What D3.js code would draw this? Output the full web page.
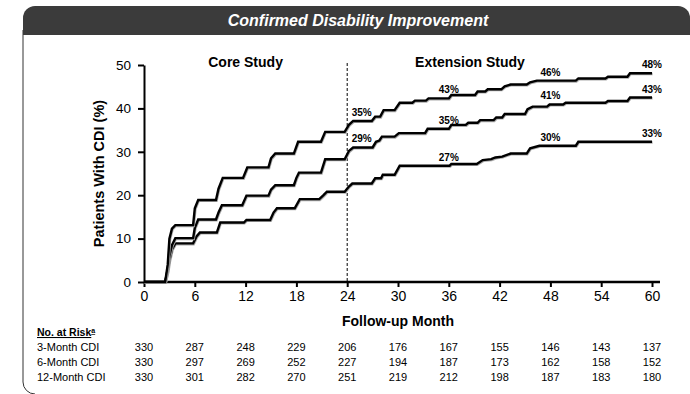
<!DOCTYPE html>
<html>
<head>
<meta charset="utf-8">
<script src="https://cdn.jsdelivr.net/npm/d3@7"></script>
<style>
  body { margin: 0; background: #fff; }
  text { font-family: "Liberation Sans", Arial, sans-serif; }
</style>
</head>
<body>
<div id="chart"></div>
<script>
// curve vertices: [month, % with CDI]
var cdi3 = [[0,0],[2.5,0],[2.8,4],[3.0,10],[3.3,12.3],[3.7,13.1],[5.8,13.1],[6.0,17],[6.4,18.9],[8.5,18.9],[8.8,21.5],[9.3,24.0],
  [11.7,24.0],[12.2,26.4],[14.7,26.4],[15.0,28.5],[15.5,29.6],[17.7,29.6],[18.2,32.3],[20.9,32.3],[21.4,34.6],[23.7,34.6],
  [24.2,36.2],[24.7,37.1],[26.9,37.1],[27.3,38.1],[27.9,38.1],[28.3,39.6],[29.6,39.6],[30.2,41.3],[31.7,41.3],[32.0,41.8],
  [33.3,41.8],[33.6,42.3],[36.0,42.3],[36.3,43.1],[39.1,43.1],[39.4,43.9],[40.3,43.9],[40.6,44.4],[42.2,44.4],[42.6,45.1],
  [43.3,45.5],[45.2,45.5],[45.6,46.0],[46.4,46.4],[51.0,46.4],[51.3,46.9],[54.5,46.9],[54.8,47.3],[57.1,47.3],[57.4,48.1],[60,48.1]];
var cdi6 = [[0,0],[2.5,0],[2.8,3],[3.0,6],[3.3,8.5],[3.7,10.1],[5.8,10.1],[6.0,12.5],[6.4,14.4],[8.5,14.4],[8.8,16],[9.2,17.7],
  [11.6,17.7],[12.1,19.9],[14.7,19.9],[15.0,21.3],[15.5,22.3],[17.7,22.3],[18.0,24],[18.3,25.2],[20.9,25.2],[21.4,28.3],
  [23.7,28.3],[24.2,30.2],[24.7,31.0],[27.0,31.0],[27.4,32.3],[27.8,32.6],[28.1,33.5],[29.6,33.5],[30.1,34.3],[33.2,34.3],
  [33.5,35.3],[36.0,35.3],[36.3,36.2],[38.0,36.2],[38.3,36.7],[39.4,36.7],[39.7,37.3],[41.3,37.3],[41.6,37.9],[42.3,37.9],
  [42.6,38.7],[45.0,38.7],[45.3,39.8],[45.9,40.4],[47.6,40.4],[47.9,40.9],[49.5,40.9],[49.8,41.3],[54.5,41.3],[54.8,41.7],
  [57.1,41.7],[57.4,42.5],[60,42.5]];
var cdi12 = [[0,0],[2.5,0],[2.8,2.5],[3.0,5],[3.3,7.5],[3.7,8.9],[5.8,8.9],[6.2,10.5],[6.6,11.4],[8.6,11.4],[9.0,13.7],
  [11.8,13.7],[12.1,14.3],[14.9,14.3],[15.3,16],[15.7,17.0],[17.8,17.0],[18.4,19.1],[20.7,19.1],[21.2,20.0],[21.6,20.8],
  [23.7,20.8],[24.2,22.0],[24.6,22.7],[26.9,22.7],[27.3,23.9],[28.0,23.9],[28.2,24.7],[29.6,24.7],[30.2,26.8],[36.1,26.8],
  [36.3,27.2],[39.3,27.2],[40.0,28.1],[41.0,28.3],[41.5,28.7],[42.3,28.9],[43.3,29.6],[45.2,29.6],[45.6,30.8],[46.7,31.4],
  [51.0,31.4],[51.3,32.3],[60,32.3]];

// percentage labels on the curves
var labelMonths3 = [24, 36, 48, 60], labels3 = ["35%", "43%", "46%", "48%"];
var labelMonths6 = [24, 36, 48, 60], labels6 = ["29%", "35%", "41%", "43%"];
var labelMonths12 = [36, 48, 60], labels12 = ["27%", "30%", "33%"];

// number at risk table
var riskMonths = [0, 6, 12, 18, 24, 30, 36, 42, 48, 54, 60];
var rowNames = ["3-Month CDI", "6-Month CDI", "12-Month CDI"];
var risk3 = [330, 287, 248, 229, 206, 176, 167, 155, 146, 143, 137];
var risk6 = [330, 297, 269, 252, 227, 194, 187, 173, 162, 158, 152];
var risk12 = [330, 301, 282, 270, 251, 219, 212, 198, 187, 183, 180];

var xTicks = [0, 6, 12, 18, 24, 30, 36, 42, 48, 54, 60];
var yTicks = [0, 10, 20, 30, 40, 50];

var W = 690, H = 394;
var margin = { top: 65, right: 38, bottom: 112, left: 144 },
  width = W - margin.left - margin.right,
  height = H - margin.top - margin.bottom;

var root = d3.select("#chart").append("svg")
  .attr("width", W).attr("height", H);

// frame + header band
root.append("path")
  .attr("d", "M23,30 V382 A12,12 0 0 0 35,394")
  .attr("fill", "none").attr("stroke", "#333").attr("stroke-width", 1);
root.append("path")
  .attr("d", "M23,35 V18 A12,12 0 0 1 35,6 H678 A12,12 0 0 1 690,18 V35 Z")
  .attr("fill", "#3b3b3b");
root.append("text")
  .attr("x", 358).attr("y", 26)
  .attr("text-anchor", "middle")
  .attr("fill", "#fff")
  .style("font-size", "16px").style("font-weight", "bold").style("font-style", "italic")
  .text("Confirmed Disability Improvement");

var svg = root.append("g")
  .attr("transform", "translate(" + margin.left + "," + margin.top + ")");

var x = d3.scaleLinear().domain([0, 60]).range([0, width]);
var y = d3.scaleLinear().domain([0, 50]).range([height, 0]);

// Y axis
var yAxis = svg.append("g")
  .call(d3.axisLeft(y).tickValues(yTicks).tickSize(6).tickSizeOuter(0).tickPadding(7));
yAxis.select(".domain").attr("stroke-width", 2);
yAxis.selectAll(".tick line").attr("stroke-width", 2);
yAxis.selectAll(".tick text").style("font-size", "13.5px").attr("fill", "#000");

// X axis (line runs a little past 60)
var xAxis = svg.append("g")
  .attr("transform", "translate(0," + height + ")")
  .call(d3.axisBottom(x).tickValues(xTicks).tickSize(5).tickSizeOuter(0).tickPadding(4));
xAxis.select(".domain").attr("d", "M0,0H" + (width + 8)).attr("stroke-width", 2.5);
xAxis.selectAll(".tick line").attr("stroke-width", 2);
xAxis.selectAll(".tick text").style("font-size", "14px").attr("fill", "#000");

// core / extension divider
svg.append("line")
  .attr("x1", x(24)).attr("x2", x(24))
  .attr("y1", -2).attr("y2", height)
  .attr("stroke", "#000").attr("stroke-width", 1)
  .attr("stroke-dasharray", "3,2");

svg.append("text")
  .attr("x", x(12)).attr("y", 1.5)
  .attr("text-anchor", "middle")
  .style("font-size", "14px").style("font-weight", "bold")
  .text("Core Study");
svg.append("text")
  .attr("x", x(38.5)).attr("y", 1.5)
  .attr("text-anchor", "middle")
  .style("font-size", "14px").style("font-weight", "bold")
  .text("Extension Study");

// curves
var line = d3.line()
  .x(function (d) { return x(d[0]); })
  .y(function (d) { return y(d[1]); });

[cdi12, cdi6, cdi3].forEach(function (s) {
  svg.append("path")
    .datum(s)
    .attr("d", line)
    .attr("fill", "none")
    .attr("stroke", "#aaa")
    .attr("stroke-width", 2.5)
    .attr("transform", "translate(0.6,0.8)");
  svg.append("path")
    .datum(s)
    .attr("d", line)
    .attr("fill", "none")
    .attr("stroke", "#000")
    .attr("stroke-width", 2.4);
});

function valueAt(s, m) {
  for (var i = 1; i < s.length; i++) {
    if (s[i][0] >= m) {
      var a = s[i - 1], b = s[i];
      return a[1] + (b[1] - a[1]) * (m - a[0]) / (b[0] - a[0]);
    }
  }
  return s[s.length - 1][1];
}

function addLabels(s, months, texts) {
  months.forEach(function (m, i) {
    var first = m === 24;
    var mm = first ? 25.6 : m;
    svg.append("text")
      .attr("x", first ? x(m) + 4.5 : x(m))
      .attr("y", y(valueAt(s, mm)) - 5)
      .attr("text-anchor", first ? "start" : "middle")
      .style("font-size", "10px").style("font-weight", "bold")
      .text(texts[i]);
  });
}
addLabels(cdi3, labelMonths3, labels3);
addLabels(cdi6, labelMonths6, labels6);
addLabels(cdi12, labelMonths12, labels12);

// axis titles
svg.append("text")
  .attr("x", width / 2).attr("y", height + 44)
  .attr("text-anchor", "middle")
  .style("font-size", "14px").style("font-weight", "bold")
  .text("Follow-up Month");

svg.append("text")
  .attr("transform", "translate(-40," + (height / 2) + ") rotate(-90)")
  .attr("text-anchor", "middle")
  .style("font-size", "14.5px").style("font-weight", "bold")
  .text("Patients With CDI (%)");

// number at risk
var hdr = root.append("text")
  .attr("x", 37).attr("y", 336)
  .style("font-size", "10.5px").style("font-weight", "bold")
  .style("text-decoration", "underline");
hdr.append("tspan").text("No. at Risk");
hdr.append("tspan").attr("dy", -3).style("font-size", "7px").text("a");

[risk3, risk6, risk12].forEach(function (row, r) {
  var yy = 350.5 + r * 15;
  root.append("text")
    .attr("x", 37).attr("y", yy)
    .style("font-size", "11px")
    .text(rowNames[r]);
  root.selectAll(null)
    .data(row)
    .enter()
    .append("text")
    .attr("x", function (d, i) { return margin.left + x(riskMonths[i]); })
    .attr("y", yy)
    .attr("text-anchor", "middle")
    .style("font-size", "11px")
    .text(function (d) { return d; });
});
</script>
</body>
</html>
